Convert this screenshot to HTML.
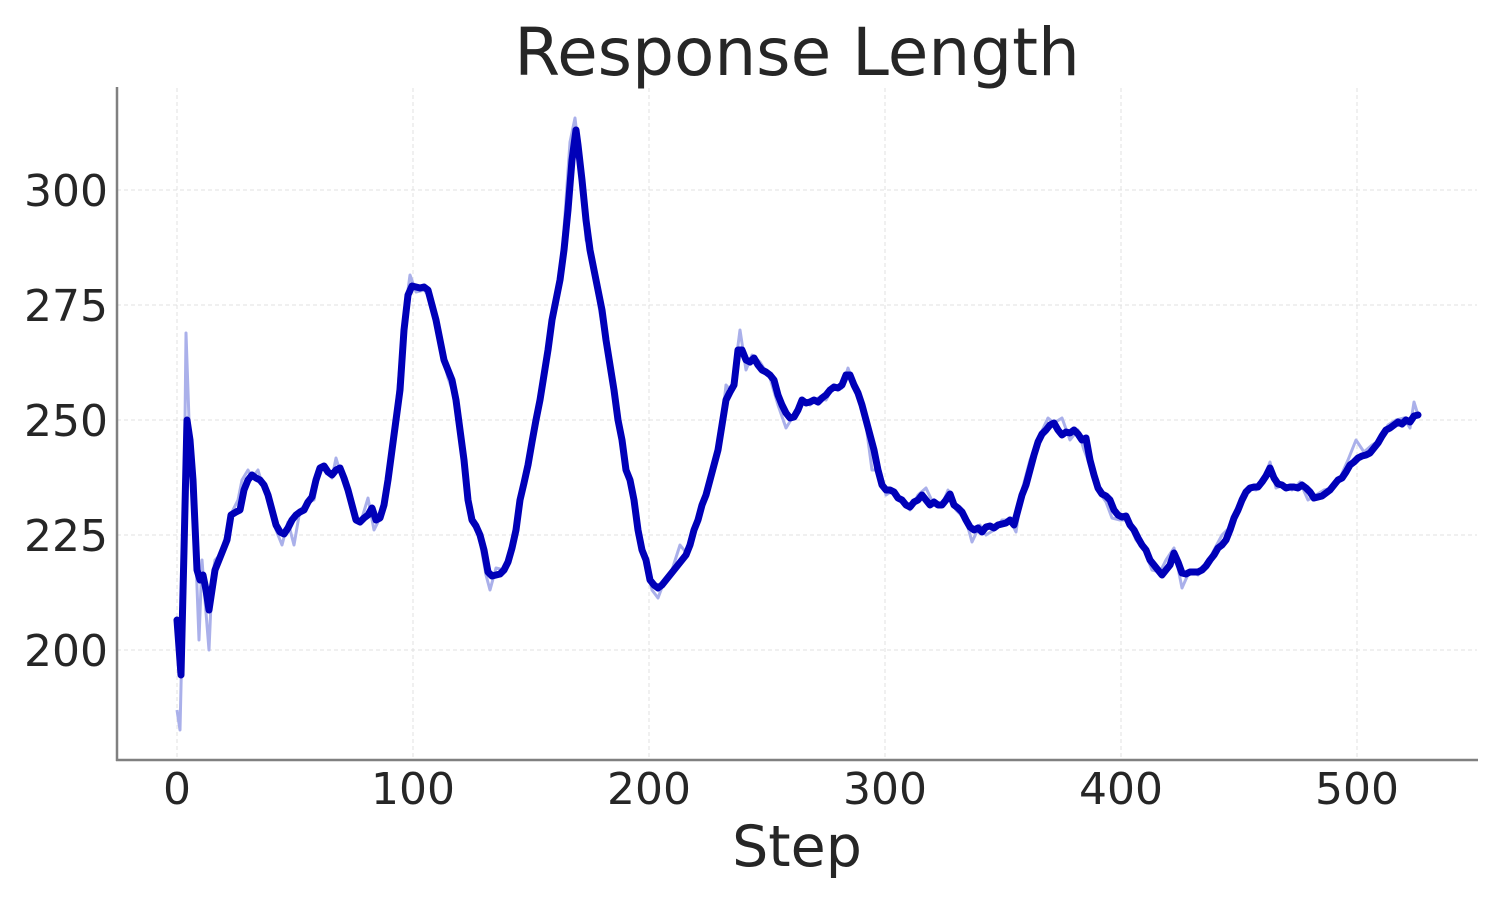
<!DOCTYPE html>
<html><head><meta charset="utf-8"><style>
html,body{margin:0;padding:0;background:#fff;}
svg{display:block;font-family:"DejaVu Sans","Liberation Sans",sans-serif;}
</style></head><body>
<svg width="1500" height="900" viewBox="0 0 1500 900" xmlns="http://www.w3.org/2000/svg">
<rect width="1500" height="900" fill="#fff"/>
<g stroke="#e0e0e0" stroke-width="1" stroke-dasharray="4,3">
<line x1="177" y1="88" x2="177" y2="760"/><line x1="413" y1="88" x2="413" y2="760"/>
<line x1="649" y1="88" x2="649" y2="760"/><line x1="885" y1="88" x2="885" y2="760"/>
<line x1="1121" y1="88" x2="1121" y2="760"/><line x1="1357" y1="88" x2="1357" y2="760"/>
<line x1="117" y1="190" x2="1477" y2="190"/><line x1="117" y1="305" x2="1477" y2="305"/>
<line x1="117" y1="420" x2="1477" y2="420"/><line x1="117" y1="535" x2="1477" y2="535"/>
<line x1="117" y1="650" x2="1477" y2="650"/>
</g>
<polyline fill="none" stroke="#aab0ea" stroke-width="3" stroke-linejoin="round" points="177,710 180,730 183,600 186,333 189,420 192,470 196,560 199,640 202,560 205,600 209,650 212,580 215,560 220,555 226,535 232,512 238,500 242,480 248,470 252,478 258,470 264,490 270,500 276,530 282,545 288,522 294,545 300,510 308,502 314,500 320,468 326,470 332,478 336,458 342,478 350,500 356,522 362,518 368,498 374,530 380,518 388,480 396,410 404,320 410,275 416,292 424,290 432,300 440,345 448,378 456,400 464,465 470,520 478,530 486,575 490,590 496,568 504,570 512,548 520,500 528,462 536,420 544,370 552,318 560,285 566,200 570,142 575,118 580,160 586,240 590,250 598,300 606,350 614,385 622,440 630,485 638,535 646,560 652,590 658,598 664,582 672,570 680,545 688,555 696,520 704,500 712,470 720,440 726,385 732,392 740,330 746,370 752,355 760,362 770,378 778,405 786,428 794,415 802,398 810,405 818,398 826,400 834,385 842,388 848,368 856,390 864,410 872,470 880,470 886,495 894,490 902,502 910,510 918,495 926,488 934,505 942,505 948,490 956,510 966,520 972,542 980,525 986,535 994,530 1002,520 1010,520 1016,532 1022,490 1030,460 1040,435 1048,418 1054,423 1062,418 1070,440 1078,430 1084,450 1090,465 1098,490 1106,502 1112,518 1120,520 1128,520 1136,540 1144,550 1152,570 1160,572 1166,560 1174,548 1182,588 1190,570 1198,575 1206,565 1214,550 1222,535 1232,525 1240,502 1248,488 1256,490 1264,478 1270,462 1276,488 1284,485 1292,490 1300,482 1308,500 1316,495 1324,490 1332,488 1340,478 1348,460 1356,440 1364,452 1372,445 1380,440 1388,425 1396,420 1404,418 1410,428 1414,402 1418,415"/>
<polyline fill="none" stroke="#0000b8" stroke-width="7" stroke-linejoin="round" stroke-linecap="round" points="177,620 181,675 184,550 187,420 190,440 193,480 197,570 200,580 203,575 206,590 209,610 212,590 215,570 219,560 223,550 227,540 231,515 236,512 240,510 244,490 248,480 252,475 256,478 260,480 264,485 268,495 272,510 276,525 280,532 284,534 288,528 292,520 296,515 300,512 304,510 308,502 312,497 316,480 320,468 324,466 328,472 332,475 336,470 340,468 344,478 348,490 352,505 356,520 360,522 364,518 368,515 372,508 376,520 380,518 384,505 388,480 392,450 396,420 400,390 404,330 408,295 412,286 416,287 420,288 424,287 428,290 432,305 436,320 440,340 444,360 448,370 452,380 456,400 460,430 464,460 468,500 472,520 476,526 480,535 484,550 488,572 492,576 496,575 500,574 504,570 508,562 512,548 516,530 520,500 524,483 528,465 532,442 536,420 540,400 544,375 548,350 552,320 556,300 560,280 564,250 568,210 572,160 576,130 578,145 582,180 586,220 590,250 594,270 598,290 602,310 606,340 610,365 614,390 618,420 622,440 626,470 630,480 634,500 638,530 642,550 646,560 650,580 654,585 658,588 662,585 666,580 670,575 674,570 678,565 682,560 686,555 690,545 694,530 698,520 702,505 706,495 710,480 714,465 718,450 722,425 726,400 730,392 734,385 738,350 742,350 746,360 750,362 754,358 758,365 762,370 766,372 770,375 774,380 778,395 782,405 786,413 790,418 794,417 798,410 802,400 806,403 810,402 814,400 818,402 822,398 826,395 830,390 834,387 838,388 842,385 846,375 850,375 854,385 858,393 862,405 866,420 870,435 874,450 878,470 882,485 886,490 890,490 894,492 898,498 902,500 906,505 910,507 914,502 918,500 922,495 926,500 930,505 934,502 938,505 942,505 946,500 950,494 954,505 958,508 962,512 966,520 970,527 974,530 978,528 982,532 986,527 990,526 994,528 998,525 1002,524 1006,523 1010,520 1014,525 1018,510 1022,495 1026,485 1030,470 1034,455 1038,442 1042,434 1046,430 1050,425 1054,423 1058,430 1062,435 1066,432 1070,433 1074,430 1078,434 1082,440 1086,438 1090,460 1094,475 1098,488 1102,494 1106,496 1110,500 1114,510 1118,515 1122,517 1126,516 1130,525 1134,530 1138,538 1142,545 1146,550 1150,560 1154,565 1158,570 1162,575 1166,570 1170,565 1174,553 1178,562 1182,573 1186,574 1190,572 1194,572 1198,572 1202,570 1206,566 1210,560 1214,555 1218,548 1222,545 1226,540 1230,530 1234,518 1238,510 1242,500 1246,492 1250,488 1254,487 1258,487 1262,482 1266,476 1270,468 1274,478 1278,484 1282,485 1286,488 1290,487 1294,487 1298,488 1302,485 1306,488 1310,492 1314,498 1318,497 1322,496 1326,493 1330,490 1334,485 1338,480 1342,478 1346,472 1350,465 1354,462 1358,458 1362,456 1366,455 1370,453 1374,448 1378,443 1382,436 1386,430 1390,428 1394,425 1398,422 1402,424 1406,420 1410,422 1414,416 1418,415"/>
<g stroke="#808080" stroke-width="2.5">
<line x1="117" y1="87" x2="117" y2="761"/><line x1="116" y1="760" x2="1478" y2="760"/>
</g>
<g fill="#262626" font-size="44" text-anchor="end">
<text x="108" y="206">300</text><text x="108" y="321">275</text><text x="108" y="436">250</text>
<text x="108" y="551">225</text><text x="108" y="666">200</text>
</g>
<g fill="#262626" font-size="44" text-anchor="middle">
<text x="177" y="804">0</text><text x="413" y="804">100</text><text x="649" y="804">200</text>
<text x="885" y="804">300</text><text x="1121" y="804">400</text><text x="1357" y="804">500</text>
</g>
<text x="797" y="866" fill="#262626" font-size="57" text-anchor="middle">Step</text>
<text x="797" y="75" fill="#262626" font-size="66" text-anchor="middle">Response Length</text>
</svg>
</body></html>
